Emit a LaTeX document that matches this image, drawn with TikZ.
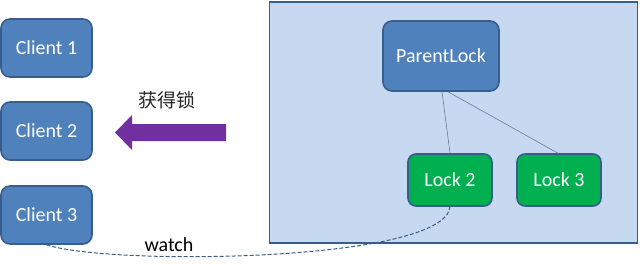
\documentclass[tikz,border=0pt]{standalone}
\usepackage{fontspec}
\setmainfont{Carlito}
\newfontfamily\cjk{Noto Sans CJK SC}
\definecolor{cblue}{HTML}{4F81BD}
\definecolor{cborder}{HTML}{385D8A}
\definecolor{cgreen}{HTML}{00B050}
\definecolor{bgpanel}{HTML}{C6D9F1}
\definecolor{cpurple}{HTML}{7030A0}
\begin{document}
\begin{tikzpicture}[x=1pt,y=-1pt,
  boxfont/.style={font=\fontsize{20}{22}\selectfont},
  bluebox/.style={draw=cborder,line width=1.6pt,fill=cblue,rounded corners=9pt,text=white,boxfont},
  greenbox/.style={draw=cborder,line width=1.6pt,fill=cgreen,rounded corners=8pt,text=white,boxfont},
  link/.style={draw=cborder!80,line width=0.6pt},
  watchline/.style={draw=cborder,line width=1pt,dash pattern=on 4pt off 2pt}]
\useasboundingbox (0,0) rectangle (640,265);
\node[draw=cborder,line width=1.6pt,fill=bgpanel,minimum width=368pt,minimum height=241pt,inner sep=0pt] (panel) at (453.5,122.5) {};
\node[bluebox,minimum width=91pt,minimum height=58pt] (c1) at (46.5,48) {Client 1};
\node[bluebox,minimum width=91pt,minimum height=58pt] (c2) at (46.5,131) {Client 2};
\node[bluebox,minimum width=91pt,minimum height=58pt] (c3) at (46.5,215) {Client 3};
\node[bluebox,minimum width=116pt,minimum height=70pt] (pl) at (441,56) {ParentLock};
\node[greenbox,minimum width=84pt,minimum height=52pt] (l2) at (450,180) {Lock 2};
\node[greenbox,minimum width=84pt,minimum height=52pt] (l3) at (559,180) {Lock 3};
\fill[cpurple] (226,124) -- (132,124) -- (132,115) -- (115,132.5) -- (132,150) -- (132,141) -- (226,141) -- cycle;
\node[font=\cjk\fontsize{19}{21}\selectfont,text=black!85] (lbl) at (167,100) {获得锁};
\coordinate (p2) at ([xshift=1pt]pl.south);
\coordinate (p3) at ([xshift=7pt]pl.south);
\draw[link] (p2) -- (l2.north);
\draw[link] (p3) -- ([xshift=-1pt]l3.north);
\draw[watchline] (c3.south) .. controls (110,266) and (445,262) .. (l2.south);
\node[boxfont] (w) at (169,245) {watch};
\end{tikzpicture}
\end{document}
